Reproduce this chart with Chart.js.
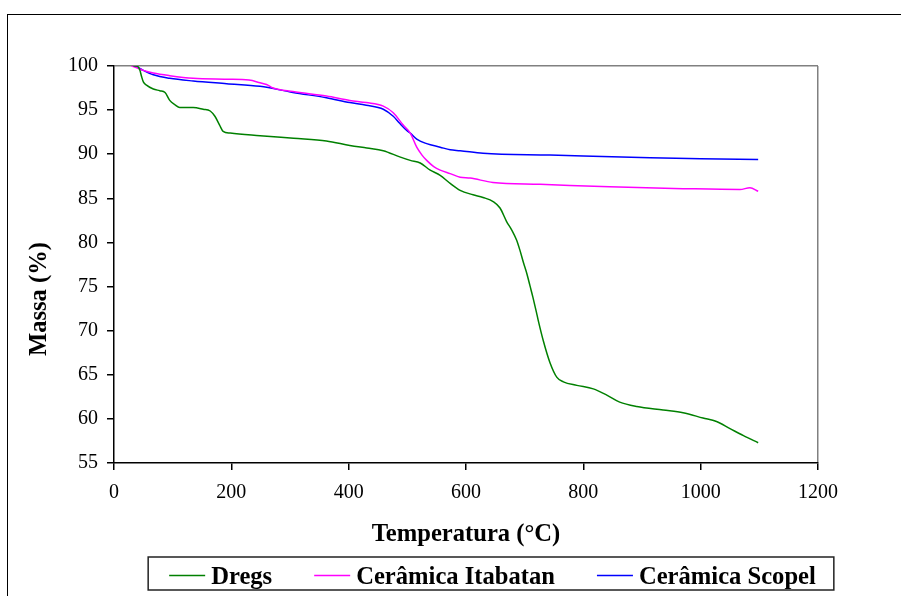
<!DOCTYPE html>
<html><head><meta charset="utf-8">
<script src="https://cdn.jsdelivr.net/npm/chart.js@4"></script>
<style>
html,body{margin:0;padding:0;background:#fff;overflow:hidden;width:901px;height:596px;}
#frame{position:absolute;left:7px;top:14px;width:1000px;height:700px;border:1.5px solid #000;box-sizing:border-box;}
canvas{position:absolute;left:0;top:0;}
</style></head><body>
<div id="frame"></div>
<canvas id="c" width="901" height="596"></canvas>
<script>
// ---- data ----
const seriesNames = ['Dregs', 'Cerâmica Itabatan', 'Cerâmica Scopel'];
const seriesColors = ['#008000', '#FF00FF', '#0000FF'];

const dregsTemp = [33,39,44,47,50,56,67,78,87,95,104,112,135,152,164,172,180,186,198,249,306,362,402,431,459,487,505,522,539,556,573,590,612,629,647,658,669,678,686,692,698,704,709,714,720,723,732,743,755,766,789,817,840,862,891,936,970,1004,1027,1050,1073,1098];
const dregsMass = [100,100,99.55,98.8,98.2,97.8,97.4,97.2,97.0,96.1,95.6,95.3,95.3,95.1,94.9,94.3,93.3,92.6,92.4,92.1,91.8,91.5,91.0,90.7,90.4,89.7,89.3,89.0,88.2,87.6,86.7,85.9,85.4,85.1,84.6,83.9,82.4,81.4,80.3,79.1,77.7,76.4,75.1,73.8,72.1,71.2,68.8,66.4,64.7,64.2,63.8,63.4,62.7,61.9,61.4,61.0,60.7,60.1,59.7,58.9,58.1,57.3];

const itabatanTemp = [30,39,50,67,95,135,192,230,249,260,271,305,362,402,430,459,476,493,505,516,525,533,545,556,573,590,607,646,726,845,970,1067,1084,1098];
const itabatanMass = [100,99.8,99.5,99.2,98.9,98.6,98.5,98.4,98.1,97.9,97.5,97.1,96.6,96.1,95.85,95.45,94.7,93.3,92.4,90.8,89.9,89.3,88.6,88.2,87.8,87.4,87.3,86.8,86.6,86.3,86.1,86.0,86.2,85.8];

const scopelTemp = [35,39,50,67,95,135,192,249,305,362,402,430,459,476,487,499,505,516,533,556,573,590,629,743,914,1000,1098];
const scopelMass = [100,99.9,99.5,99.0,98.6,98.3,98.0,97.7,97.0,96.4,95.85,95.55,95.1,94.3,93.5,92.7,92.4,91.7,91.2,90.8,90.5,90.4,90.1,89.9,89.6,89.5,89.4];

const xTicks = [0,200,400,600,800,1000,1200];
const yTicks = [55,60,65,70,75,80,85,90,95,100];
const xTitle = 'Temperatura (°C)';
const yTitle = 'Massa (%)';

// ---- chart ----
const serif = "'Liberation Serif', 'Times New Roman', serif";
const pts = (xs, ys) => xs.map((x, i) => ({x: x, y: ys[i]}));
const temps = [dregsTemp, itabatanTemp, scopelTemp];
const masses = [dregsMass, itabatanMass, scopelMass];

const datasets = seriesNames.map((name, i) => ({
  label: name,
  data: pts(temps[i], masses[i]),
  borderColor: seriesColors[i],
  backgroundColor: seriesColors[i],
  borderWidth: 1.5,
  showLine: true,
  pointRadius: 0,
  cubicInterpolationMode: 'monotone'
}));

const yTitlePlugin = {
  id: 'yTitle',
  afterDraw(chart) {
    const c = chart.ctx;
    c.save();
    c.translate(40, 299);
    c.rotate(-Math.PI / 2);
    c.font = 'bold 24.6px ' + serif;
    c.fillStyle = '#000';
    c.textAlign = 'center';
    c.textBaseline = 'middle';
    c.fillText(yTitle, 0, 0);
    c.restore();
  }
};

const legendPlugin = {
  id: 'boxLegend',
  afterDraw(chart) {
    const c = chart.ctx;
    c.save();
    c.font = 'bold 24.6px ' + serif;
    const lineLen = 36, gapText = 6, gapItem = 42;
    const widths = chart.data.datasets.map(d => c.measureText(d.label).width);
    let total = 0;
    widths.forEach((w, i) => { total += lineLen + gapText + w + (i < widths.length - 1 ? gapItem : 0); });
    const center = 492.5;
    let x = center - total / 2;
    const startX = x;
    const lineY = 575.5, baseY = 584;
    chart.data.datasets.forEach((d, i) => {
      c.strokeStyle = d.borderColor;
      c.lineWidth = 1.5;
      c.beginPath();
      c.moveTo(x, lineY);
      c.lineTo(x + lineLen, lineY);
      c.stroke();
      c.fillStyle = '#000';
      c.textAlign = 'left';
      c.textBaseline = 'alphabetic';
      c.fillText(d.label, x + lineLen + gapText, baseY);
      x += lineLen + gapText + widths[i] + gapItem;
    });
    const endX = x - gapItem;
    c.strokeStyle = '#222';
    c.lineWidth = 1.5;
    c.strokeRect(startX - 21, 557, (endX + 18) - (startX - 21), 33);
    c.restore();
  }
};

new Chart(document.getElementById('c'), {
  type: 'scatter',
  data: { datasets: datasets },
  options: {
    responsive: false,
    animation: false,
    layout: { padding: { left: 0, right: 83, top: 66, bottom: 44 } },
    plugins: {
      legend: { display: false },
      tooltip: { enabled: false }
    },
    scales: {
      x: {
        type: 'linear', min: 0, max: 1200,
        afterBuildTicks: s => { s.ticks = xTicks.map(v => ({value: v})); },
        afterFit: s => { s.height = 89; },
        ticks: { font: { family: serif, size: 20 }, color: '#000', padding: 11, maxRotation: 0, callback: v => String(v) },
        grid: {
          color: ctx => (ctx.tick && ctx.tick.value === 1200) ? '#808080' : 'rgba(0,0,0,0)',
          lineWidth: 1.5, tickColor: '#000', tickWidth: 1.5, tickLength: 7
        },
        border: { color: '#000', width: 1.5 },
        title: { display: true, text: xTitle, color: '#000', font: { family: serif, size: 24.6, weight: 'bold' }, padding: { top: 0, bottom: 3 } }
      },
      y: {
        type: 'linear', min: 55, max: 100,
        afterBuildTicks: s => { s.ticks = yTicks.map(v => ({value: v})); },
        afterFit: s => { s.width = 114; },
        ticks: { font: { family: serif, size: 20 }, color: '#000', padding: 9, callback: v => String(v) },
        grid: {
          color: ctx => (ctx.tick && ctx.tick.value === 100) ? '#808080' : 'rgba(0,0,0,0)',
          lineWidth: 1.5, tickColor: '#000', tickWidth: 1.5, tickLength: 7
        },
        border: { color: '#000', width: 1.5 },
        title: { display: false }
      }
    }
  },
  plugins: [yTitlePlugin, legendPlugin]
});
</script>
</body></html>
